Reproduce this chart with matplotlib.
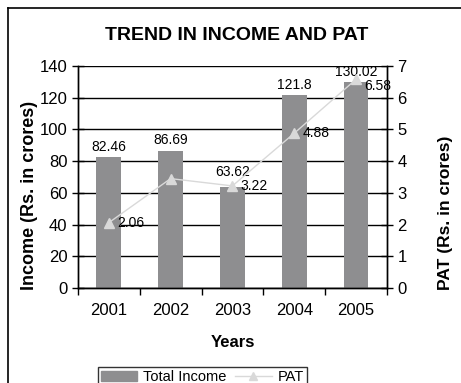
import numpy as np
import matplotlib.pyplot as plt
from matplotlib.lines import Line2D

plt.rcParams['font.family'] = ['Liberation Sans', 'DejaVu Sans']

# Data
years = ['2001', '2002', '2003', '2004', '2005']
income = [82.46, 86.69, 63.62, 121.8, 130.02]
income_labels = ['82.46', '86.69', '63.62', '121.8', '130.02']
pat = [2.06, 3.45, 3.22, 4.88, 6.58]
pat_labels = ['2.06', '', '3.22', '4.88', '6.58']

bar_color = '#8e8e90'
line_color = '#d9d9d9'

fig = plt.figure(figsize=(4.61, 3.83), dpi=100)
ax = fig.add_axes([0.169, 0.248, 0.6703, 0.5796])
ax2 = ax.twinx()

x = np.arange(len(years))
ax.bar(x, income, width=0.4, color=bar_color, zorder=2)
for xi, v, lab in zip(x, income, income_labels):
    dy = 5 if lab == '63.62' else 2  # nudged up to clear the PAT label
    ax.text(xi, v + dy, lab, ha='center', va='bottom', fontsize=10, zorder=5)

ax2.plot(x, pat, color=line_color, marker='^', markersize=7, lw=1,
         markerfacecolor=line_color, markeredgecolor=line_color, zorder=3)
for xi, v, lab in zip(x, pat, pat_labels):
    if lab:
        dy = -0.2 if lab == '6.58' else 0
        ax2.text(xi + 0.13, v + dy, lab, ha='left', va='center', fontsize=10)

ax.set_xlim(-0.5, 4.5)
ax.set_ylim(0, 140)
ax2.set_ylim(0, 7)
ax.set_yticks(np.arange(0, 141, 20))
ax2.set_yticks(np.arange(0, 8, 1))
ax.yaxis.grid(True, color='black', lw=1, zorder=0)
ax.set_axisbelow(True)

ax.set_xticks(x)
ax.set_xticklabels(years, fontsize=12)
ax.set_xticks(np.arange(-0.5, 5, 1), minor=True)
ax.tick_params(axis='x', which='major', length=0, pad=11)
ax.tick_params(axis='x', which='minor', length=5, direction='out', width=1)
ax.tick_params(axis='y', labelsize=12, direction='inout', length=8, width=1)
ax2.tick_params(axis='y', labelsize=12, direction='inout', length=8, width=1)

for a in (ax, ax2):
    for s in a.spines.values():
        s.set_linewidth(1)
    a.spines['top'].set_visible(False)

ax.set_xlabel('Years', fontsize=12, fontweight='bold', labelpad=12)
# axis titles are bottom-aligned in the reference
fig.text(0.065, 0.243, 'Income (Rs. in crores)', rotation=90, ha='center',
         va='bottom', fontsize=13, fontweight='bold')
fig.text(0.966, 0.243, 'PAT (Rs. in crores)', rotation=90, ha='center',
         va='bottom', fontsize=12.5, fontweight='bold')

fig.text(0.514, 0.908, 'TREND IN INCOME AND PAT', ha='center', va='center',
         fontsize=14, fontweight='bold')

handles = [plt.Rectangle((0, 0), 1, 1, color=bar_color),
           Line2D([], [], color=line_color, marker='^', markersize=6,
                  markerfacecolor=line_color, lw=1)]
leg = fig.legend(handles, ['Total Income', 'PAT'], loc='upper left',
                 bbox_to_anchor=(0.212, 0.042), ncol=2, fontsize=10.5,
                 frameon=True, fancybox=False, edgecolor='black',
                 handlelength=2.5, columnspacing=0.6, handletextpad=0.4,
                 borderpad=0.2, borderaxespad=0)
leg.get_frame().set_linewidth(1)

# outer frame (clipped at right and bottom)
fig.add_artist(Line2D([0.017, 1], [0.979, 0.979], color='black', lw=1.2,
                      transform=fig.transFigure))
fig.add_artist(Line2D([0.017, 0.017], [0, 0.979], color='black', lw=1.2,
                      transform=fig.transFigure))

fig.savefig('out.png', dpi=100)
